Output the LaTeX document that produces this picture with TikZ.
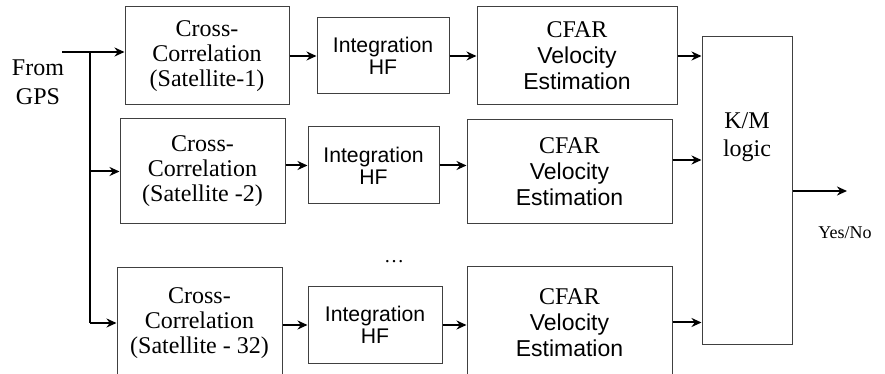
\documentclass[tikz,border=0pt]{standalone}
\usepackage{fontspec}
\setmainfont{Liberation Serif}
\setsansfont{Liberation Sans}
\usetikzlibrary{arrows.meta}

\begin{document}
\begin{tikzpicture}[x=0.5pt, y=-0.5pt, line width=0.5pt,
    blk/.style={draw=black!75, align=center, inner sep=0pt, font=\fontsize{12}{12.5}\selectfont},
    sfblk/.style={blk, font=\sffamily\fontsize{10.6}{11}\selectfont},
    arr/.style={-{Stealth[length=5pt, width=4.5pt]}, line width=1pt}]
        \useasboundingbox (0,0) rectangle (885,374);
        \clip (0,0) rectangle (885,374);

        \node[align=center, font=\fontsize{12}{14.5}\selectfont] (FromGPS) at (38,82) {From\\GPS};
        \coordinate (GPSIn) at (62,52);
        \coordinate (Split) at (90,52);

        \node[blk, minimum width=82pt, minimum height=49pt] (CrossCorrOne) at (207,56) {Cross-\\Correlation\\(Satellite-1)};
        \node[sfblk, minimum width=66pt, minimum height=38pt] (IntegOne) at (383,56) {Integration\\HF};
        \node[blk, minimum width=100pt, minimum height=49pt, font=\fontsize{12}{13}\selectfont] (CfarOne) at (577,56) {CFAR\\\textsf{\fontsize{11.5}{13}\selectfont Velocity}\\\textsf{\fontsize{11.5}{13}\selectfont Estimation}};

        \node[blk, minimum width=82.5pt, minimum height=52.5pt] (CrossCorrTwo) at (202.5,171.5) {Cross-\\Correlation\\(Satellite -2)};
        \node[sfblk, minimum width=65.5pt, minimum height=38.5pt] (IntegTwo) at (373.5,165.5) {Integration\\HF};
        \node[blk, minimum width=102.5pt, minimum height=52pt, font=\fontsize{12}{13}\selectfont] (CfarTwo) at (569.5,172) {CFAR\\\textsf{\fontsize{11.5}{13}\selectfont Velocity}\\\textsf{\fontsize{11.5}{13}\selectfont Estimation}};

        \node[font=\fontsize{10}{10}\selectfont] (Dots) at (394,262) {\dots};

        \node[blk, minimum width=82.5pt, minimum height=55pt] (CrossCorrN) at (199.5,323) {Cross-\\Correlation\\(Satellite - 32)};
        \node[sfblk, minimum width=67pt, minimum height=38pt] (IntegN) at (375,325) {Integration\\HF};
        \node[blk, minimum width=102.5pt, minimum height=55.5pt, font=\fontsize{12}{13}\selectfont] (CfarN) at (569.5,322.5) {CFAR\\\textsf{\fontsize{11.5}{13}\selectfont Velocity}\\\textsf{\fontsize{11.5}{13}\selectfont Estimation}};

        \node[blk, minimum width=45pt, minimum height=154pt] (KMLogic) at (747,191) {};
        \node[align=center, font=\fontsize{12}{14}\selectfont] (KMText) at (747,137) {K/M\\logic};
        \coordinate (Out) at (847,191);
        \node[font=\fontsize{9}{10}\selectfont] (YesNo) at (845,233) {Yes/No};

        \draw[arr] (GPSIn) -- (GPSIn -| CrossCorrOne.west);
        \draw[line width=1pt] (Split) -- (Split |- CrossCorrN.west);
        \draw[arr] (Split |- CrossCorrTwo.west) -- (CrossCorrTwo.west);
        \draw[arr] (Split |- CrossCorrN.west) -- (CrossCorrN.west);

        \draw[arr] (CrossCorrOne.east) -- (IntegOne.west);
        \draw[arr] (IntegOne.east) -- (IntegOne.east -| CfarOne.west);
        \draw[arr] (CfarOne.east) -- (CfarOne.east -| KMLogic.west);

        \draw[arr] (CrossCorrTwo.east |- IntegTwo.west) -- (IntegTwo.west);
        \draw[arr] (IntegTwo.east) -- (IntegTwo.east -| CfarTwo.west);
        \draw[arr] ([yshift=6pt]CfarTwo.east) -- ([yshift=6pt]CfarTwo.east -| KMLogic.west);

        \draw[arr] (CrossCorrN.east |- IntegN.west) -- (IntegN.west);
        \draw[arr] (IntegN.east) -- (IntegN.east -| CfarN.west);
        \draw[arr] (CfarN.east) -- (CfarN.east -| KMLogic.west);

        \draw[arr] (KMLogic.east) -- (Out);
    \end{tikzpicture}
\end{document}
